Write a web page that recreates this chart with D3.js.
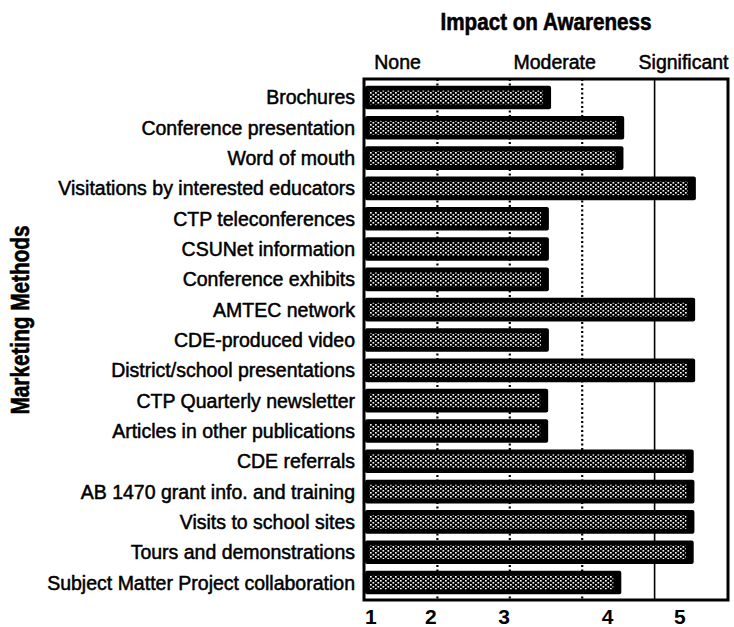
<!DOCTYPE html>
<html>
<head>
<meta charset="utf-8">
<script src="https://cdn.jsdelivr.net/npm/d3@7"></script>
<style>
  html, body { margin: 0; padding: 0; background: #fff; }
  svg { display: block; }
  text { font-family: "Liberation Sans", Arial, Helvetica, sans-serif; fill: #000; }
</style>
</head>
<body>
<div id="chart"></div>
<script>
  // data
  var methods = [
    "Brochures",
    "Conference presentation",
    "Word of mouth",
    "Visitations by interested educators",
    "CTP teleconferences",
    "CSUNet information",
    "Conference exhibits",
    "AMTEC network",
    "CDE-produced video",
    "District/school  presentations",
    "CTP Quarterly newsletter",
    "Articles in other publications",
    "CDE referrals",
    "AB 1470 grant info. and training",
    "Visits to school sites",
    "Tours and demonstrations",
    "Subject Matter Project collaboration"
  ];
  var impact = [2.57, 3.58, 3.57, 4.57, 2.54, 2.54, 2.54, 4.56, 2.54, 4.56, 2.53, 2.53, 4.54, 4.55, 4.55, 4.54, 3.54];
  var gridValues = [1, 2, 3];
  var solidGrid = [4];
  var scaleWords = ["None", "Moderate", "Significant"];
  var scaleWordAt = [0.45, 2.62, 4.4];
  var tickLabels = ["1", "2", "3", "4", "5"];
  var tickLabelAt = [0.08, 0.91, 1.92, 3.35, 4.35];

  var W = 734, H = 627;
  var frame = { left: 364, right: 728, top: 79, bottom: 600 };

  var svg = d3.select("#chart").append("svg")
    .attr("width", W)
    .attr("height", H);

  var x = d3.scaleLinear().domain([0, 5]).range([frame.left + 1, frame.right - 1]);
  var y = d3.scaleBand().domain(methods).range([frame.top + 3, frame.bottom - 2]).paddingInner(0.22).paddingOuter(0.12);

  // stipple fill used inside the bars
  var defs = svg.append("defs");
  var pat = defs.append("pattern")
    .attr("id", "stipple")
    .attr("patternUnits", "userSpaceOnUse")
    .attr("width", 5)
    .attr("height", 4);
  pat.append("rect").attr("width", 5).attr("height", 4).attr("fill", "#000");
  pat.append("rect").attr("x", 0).attr("y", 0).attr("width", 1.7).attr("height", 1.6).attr("fill", "#fff");
  pat.append("rect").attr("x", 2.5).attr("y", 2).attr("width", 1.7).attr("height", 1.6).attr("fill", "#fff");

  // gridlines
  svg.append("g").selectAll("line")
    .data(gridValues)
    .join("line")
    .attr("x1", function (d) { return x(d); })
    .attr("x2", function (d) { return x(d); })
    .attr("y1", frame.top)
    .attr("y2", frame.bottom)
    .attr("stroke", "#000")
    .attr("stroke-width", 2.2)
    .attr("stroke-dasharray", "2,2.5");

  svg.append("g").selectAll("line")
    .data(solidGrid)
    .join("line")
    .attr("x1", function (d) { return x(d); })
    .attr("x2", function (d) { return x(d); })
    .attr("y1", frame.top)
    .attr("y2", frame.bottom)
    .attr("stroke", "#000")
    .attr("stroke-width", 1.6);

  // bars
  var bars = svg.append("g").selectAll("g")
    .data(methods)
    .join("g");

  bars.append("rect")
    .attr("x", x(0))
    .attr("y", function (d) { return y(d); })
    .attr("width", function (d, i) { return x(impact[i]) - x(0); })
    .attr("height", y.bandwidth())
    .attr("rx", 2)
    .attr("fill", "#000");

  bars.append("rect")
    .attr("x", x(0) + 4)
    .attr("y", function (d) { return y(d) + 5; })
    .attr("width", function (d, i) { return x(impact[i]) - x(0) - 12; })
    .attr("height", y.bandwidth() - 10)
    .attr("fill", "url(#stipple)");

  // frame
  svg.append("rect")
    .attr("x", frame.left)
    .attr("y", frame.top)
    .attr("width", frame.right - frame.left)
    .attr("height", frame.bottom - frame.top)
    .attr("fill", "none")
    .attr("stroke", "#000")
    .attr("stroke-width", 3);

  // category labels
  svg.append("g").selectAll("text")
    .data(methods)
    .join("text")
    .attr("x", frame.left - 9)
    .attr("y", function (d) { return y(d) + y.bandwidth() / 2; })
    .attr("dy", "0.36em")
    .attr("text-anchor", "end")
    .attr("font-size", 19.5)
    .attr("stroke", "#000")
    .attr("stroke-width", 0.5)
    .text(function (d) { return d; });

  // scale words above the frame
  svg.append("g").selectAll("text")
    .data(scaleWords)
    .join("text")
    .attr("x", function (d, i) { return x(scaleWordAt[i]); })
    .attr("y", 69)
    .attr("text-anchor", "middle")
    .attr("font-size", 19.5)
    .attr("stroke", "#000")
    .attr("stroke-width", 0.5)
    .text(function (d) { return d; });

  // tick numbers below
  svg.append("g").selectAll("text")
    .data(tickLabels)
    .join("text")
    .attr("x", function (d, i) { return x(tickLabelAt[i]); })
    .attr("y", 624)
    .attr("text-anchor", "middle")
    .attr("font-size", 21)
    .attr("font-weight", "bold")
    .text(function (d) { return d; });

  // titles: heavy condensed look, squeezed horizontally
  svg.append("text")
    .attr("transform", "translate(" + x(2.5) + ",30) scale(0.86,1)")
    .attr("text-anchor", "middle")
    .attr("font-size", 24)
    .attr("font-weight", "bold")
    .attr("stroke", "#000")
    .attr("stroke-width", 0.6)
    .text("Impact on Awareness");

  svg.append("text")
    .attr("transform", "translate(29,320) rotate(-90) scale(0.83,1)")
    .attr("text-anchor", "middle")
    .attr("font-size", 25)
    .attr("font-weight", "bold")
    .attr("stroke", "#000")
    .attr("stroke-width", 0.6)
    .text("Marketing Methods");
</script>
</body>
</html>
